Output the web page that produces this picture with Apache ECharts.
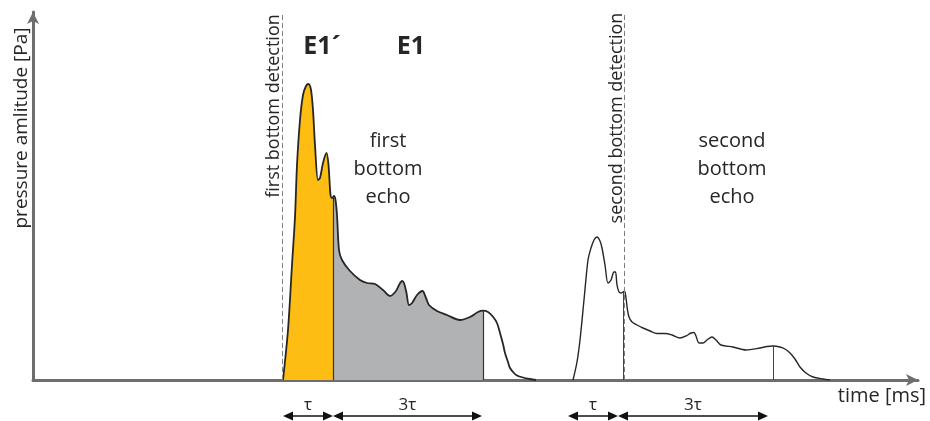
<!DOCTYPE html>
<html>
<head>
<meta charset="utf-8">
<script src="https://cdn.jsdelivr.net/npm/echarts@6/dist/echarts.min.js"></script>
<style>
  html, body { margin: 0; padding: 0; background: #fff; }
  #chart { width: 930px; height: 421px; }
</style>
</head>
<body>
<div id="chart"></div>
<script>
// first bottom echo, [time, amplitude] (arbitrary units)
var echo1 = [
  [250, 0], [255, 50], [259, 115], [262, 163], [264, 215], [267, 260], [270, 285],
  [273, 294], [275.5, 296], [278, 290], [280, 270], [282, 235], [285, 200], [287, 202],
  [290, 217], [293.5, 227], [295.5, 215], [297.5, 185], [299, 182], [301, 184],
  [302.5, 180], [304, 165], [306, 130], [309, 120], [317, 109], [327, 100], [334, 97],
  [342, 96], [350, 90], [357, 84], [363, 89], [366, 95], [369, 99], [371, 97],
  [373.5, 87], [376, 75], [379, 77], [384, 85], [389.5, 89], [393, 82], [396, 75], [404, 69],
  [414, 65], [427, 60], [437, 63], [445, 68], [450, 69.3], [455, 68], [460, 63.3],
  [464, 57], [467, 47], [470, 36], [472, 27], [475, 18], [477, 12], [481, 7],
  [484, 4.5], [490, 2.5], [497, 1], [503, 0]
];

// second bottom echo
var echo2 = [
  [540, 0], [544, 18], [547, 40], [551, 80], [555, 120], [558, 132], [561, 140],
  [564, 143], [567, 139], [569, 132], [572, 115], [575, 97], [578, 100], [581, 108],
  [582.5, 108], [584, 95], [586, 88], [588, 87], [590, 88], [591.5, 89], [593, 82],
  [594.5, 70], [596, 63], [599, 58], [604, 55], [610, 52], [617, 49], [624, 46.5],
  [632, 46.5], [639, 45], [647, 42], [653, 44], [658, 47], [661, 47.5], [663, 44],
  [666, 37], [670, 37], [674, 40], [679, 43], [683, 40], [688, 35], [700, 33],
  [713, 30], [727, 32], [734, 33.5], [740, 34], [747, 33], [752, 31], [757, 27],
  [762, 21], [767, 13], [773, 7], [780, 3], [790, 1], [797, 0]
];

// bottom detection instants
var detections = [249, 591];
var detectionNames = ['first bottom detection', 'second bottom detection'];

// integration windows: start, split (tau), end (3 tau)
var window1 = [250, 300, 450];
var window2 = [540, 590, 740];

// tau / 3tau dimension arrows below the axis
var tauMarks1 = [250, 300, 449];
var tauMarks2 = [535, 585, 735];
var tauLabels = ['τ', '3τ'];

var xMax = 885;
var yMax = 368;

var FONT = '"Open Sans", "Noto Sans", sans-serif';
var TEXT = '#262626';

// amplitude of a curve at time t (linear between read points)
function ampAt(curve, t) {
  for (var i = 1; i < curve.length; i++) {
    if (curve[i][0] >= t) {
      var a = curve[i - 1], b = curve[i];
      return a[1] + (b[1] - a[1]) * (t - a[0]) / (b[0] - a[0]);
    }
  }
  return 0;
}

function dividers(curve, win) {
  return [win[1], win[2]].map(function (t) {
    return [{ coord: [t, 0] }, { coord: [t, ampAt(curve, t)] }];
  });
}

var dom = document.getElementById('chart');
var myChart = echarts.init(dom, null, { renderer: 'canvas' });

var axisCommon = {
  type: 'value',
  min: 0,
  splitLine: { show: false },
  axisTick: { show: false },
  axisLabel: { show: false },
  axisLine: {
    show: true,
    onZero: false,
    symbol: ['none', 'arrow'],
    symbolSize: [9, 12],
    lineStyle: { color: '#6e6e6e', width: 3 }
  }
};

var option = {
  animation: false,
  grid: { left: 33, right: 12, top: 12, bottom: 41 },
  xAxis: Object.assign({}, axisCommon, { max: xMax }),
  yAxis: Object.assign({}, axisCommon, { max: yMax }),
  visualMap: {
    show: false,
    type: 'piecewise',
    seriesIndex: 0,
    dimension: 0,
    pieces: [
      { gte: window1[0], lt: window1[1], color: '#FDBD13' },
      { gte: window1[1], lte: window1[2], color: '#B1B2B4' }
    ],
    outOfRange: { color: 'rgba(255,255,255,0)' }
  },
  series: [
    {
      name: 'first bottom echo',
      type: 'line',
      data: echo1,
      smooth: 0.3,
      showSymbol: false,
      z: 3,
      lineStyle: { color: '#262626', width: 1.8 },
      areaStyle: { opacity: 1 },
      markLine: {
        silent: true,
        symbol: ['none', 'none'],
        label: { show: false },
        lineStyle: { color: '#333', width: 1.2, type: 'solid' },
        data: dividers(echo1, window1)
      }
    },
    {
      name: 'second bottom echo',
      type: 'line',
      data: echo2,
      smooth: 0.3,
      showSymbol: false,
      z: 3,
      lineStyle: { color: '#262626', width: 1.4 },
      markLine: {
        silent: true,
        symbol: ['none', 'none'],
        label: { show: false },
        lineStyle: { color: '#444', width: 1, type: 'solid' },
        data: dividers(echo2, window2)
      }
    },
    {
      name: 'detection',
      type: 'line',
      data: [],
      markLine: {
        silent: true,
        symbol: ['none', 'none'],
        label: { show: false },
        lineStyle: { color: '#808080', width: 1, type: [5, 3] },
        data: detections.map(function (t) { return { xAxis: t }; })
      }
    }
  ]
};

myChart.setOption(option);

// annotations
function px(t, a) {
  return myChart.convertToPixel({ gridIndex: 0 }, [t, a]);
}

function text(str, x, y, size, extra, weight) {
  return Object.assign({
    type: 'text',
    x: x,
    y: y,
    silent: true,
    style: {
      text: str,
      fill: TEXT,
      font: (weight || 'normal') + ' ' + size + 'px ' + FONT,
      textAlign: 'center',
      textVerticalAlign: 'middle'
    }
  }, extra || {});
}

function arrowHead(x, y, dir) {
  var len = 10, half = 4.5;
  return {
    type: 'polygon',
    silent: true,
    shape: { points: [[x, y], [x - dir * len, y - half], [x - dir * len, y + half]] },
    style: { fill: '#111' }
  };
}

function dimArrow(x1, x2, y) {
  return [
    { type: 'line', silent: true, shape: { x1: x1 + 6, y1: y, x2: x2 - 6, y2: y },
      style: { stroke: '#111', lineWidth: 1.5 } },
    arrowHead(x1, y, -1),
    arrowHead(x2, y, 1)
  ];
}

var graphic = [];
var arrowY = 416, tauY = 405;

[tauMarks1, tauMarks2].forEach(function (m) {
  var p = m.map(function (t) { return px(t, 0)[0]; });
  graphic = graphic.concat(dimArrow(p[0], p[1], arrowY), dimArrow(p[1], p[2], arrowY));
  graphic.push(text(tauLabels[0], (p[0] + p[1]) / 2, tauY, 17));
  graphic.push(text(tauLabels[1], (p[1] + p[2]) / 2, tauY, 17));
});

// detection labels, left of the dashed lines, reading upward
graphic.push(text(detectionNames[0], 274, 106, 18, { rotation: Math.PI / 2 }));
graphic.push(text(detectionNames[1], 617, 118, 18, { rotation: Math.PI / 2 }));

// echo labels
['first', 'bottom', 'echo'].forEach(function (w, i) {
  graphic.push(text(w, 388, 141 + i * 28, 20));
});
['second', 'bottom', 'echo'].forEach(function (w, i) {
  graphic.push(text(w, 732, 141 + i * 28, 20));
});

// energy labels
graphic.push(text('E1´', 322, 47, 25, null, 'bold'));
graphic.push(text('E1', 411, 47, 25, null, 'bold'));

// axis names
graphic.push(text('pressure amlitude [Pa]', 22, 128, 19, { rotation: Math.PI / 2 }));
graphic.push(text('time [ms]', 882, 396, 20));

myChart.setOption({ graphic: graphic });

window.addEventListener('resize', myChart.resize);
</script>
</body>
</html>
